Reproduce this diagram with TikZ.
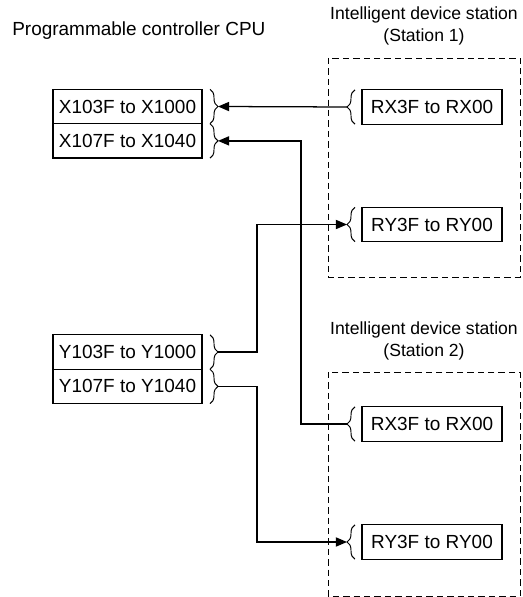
\documentclass[tikz,border=0pt]{standalone}
\usepackage{fontspec}
\setmainfont{Liberation Sans}
\usetikzlibrary{positioning,arrows.meta,decorations.pathreplacing}
\newcommand{\lbl}{\fontsize{13.5}{13.5}\selectfont}
\newcommand{\stn}{\fontsize{12.5}{15.5}\selectfont}
\tikzset{
  reg/.style  = {rectangle, draw, line width=0.9pt, minimum width=37.25mm, minimum height=8.6mm, inner sep=0, outer sep=0, font=\lbl},
  dev/.style  = {rectangle, draw, line width=0.9pt, minimum width=35mm, minimum height=8.6mm, inner sep=0, outer sep=0, font=\lbl},
  brl/.style  = {decorate, decoration={brace, amplitude=2mm}, line width=0.7pt},
  link/.style = {line width=0.9pt}, tip/.style = {-{Triangle[length=2.8mm, width=2.3mm]}},
  grp/.style  = {line width=0.6pt, dash pattern=on 1.6mm off 1mm},
  et/.style   = {font=\lbl, align=center, inner sep=0}
}

\begin{document}
\begin{tikzpicture}[x=0.25mm, y=0.25mm]
  \useasboundingbox (0,0) rectangle (523,-597);
  % CPU side
  \node[et, anchor=base west] (cpu) at (12,-36) {Programmable controller CPU};
  \node[reg] (x1) at (127.5,-106.5) {X103F to X1000};
  \node[reg, below=0pt of x1] (x2) {X107F to X1040};
  \node[reg] (y1) at (127.5,-352) {Y103F to Y1000};
  \node[reg, below=0pt of y1] (y2) {Y107F to Y1040};
  \draw[brl] ([xshift=2mm]x1.north east) -- ([xshift=2mm]x1.south east); \coordinate (x1b) at ([xshift=4mm]x1.east);
  \draw[brl] ([xshift=2mm]x2.north east) -- ([xshift=2mm]x2.south east); \coordinate (x2b) at ([xshift=4mm]x2.east);
  \draw[brl] ([xshift=2mm]y1.north east) -- ([xshift=2mm]y1.south east); \coordinate (y1b) at ([xshift=4mm]y1.east);
  \draw[brl] ([xshift=2mm]y2.north east) -- ([xshift=2mm]y2.south east); \coordinate (y2b) at ([xshift=4mm]y2.east);
  % stations
  \draw[grp] (328,-58) rectangle (520,-277);  \node[et, font=\stn] (st1) at (424,-26) {Intelligent device station\\(Station 1)};
  \draw[grp] (328,-372) rectangle (520,-596); \node[et, font=\stn] (st2) at (424,-341) {Intelligent device station\\(Station 2)};
  \node[dev] (rx1) at (432,-107) {RX3F to RX00};
  \node[dev] (ry1) at (432,-224.5) {RY3F to RY00};
  \node[dev] (rx2) at (432,-424) {RX3F to RX00};
  \node[dev] (ry2) at (432,-542) {RY3F to RY00};
  \draw[brl] ([xshift=-1.75mm]rx1.south west) -- ([xshift=-1.75mm]rx1.north west); \coordinate (rx1b) at ([xshift=-3.75mm]rx1.west);
  \draw[brl] ([xshift=-1.75mm]ry1.south west) -- ([xshift=-1.75mm]ry1.north west); \coordinate (ry1b) at ([xshift=-3.75mm]ry1.west);
  \draw[brl] ([xshift=-1.75mm]rx2.south west) -- ([xshift=-1.75mm]rx2.north west); \coordinate (rx2b) at ([xshift=-3.75mm]rx2.west);
  \draw[brl] ([xshift=-1.75mm]ry2.south west) -- ([xshift=-1.75mm]ry2.north west); \coordinate (ry2b) at ([xshift=-3.75mm]ry2.west);
  % links
  \draw[link, tip] (rx1b) -- (x1b);
  \draw[link, tip] (rx2b) -- ++(-46,0) |- (x2b);
  \draw[link, tip] (y1b) -- ++(39,0) |- (ry1b);
  \draw[link, tip] (y2b) -- ++(39,0) |- (ry2b);
\end{tikzpicture}
\end{document}
